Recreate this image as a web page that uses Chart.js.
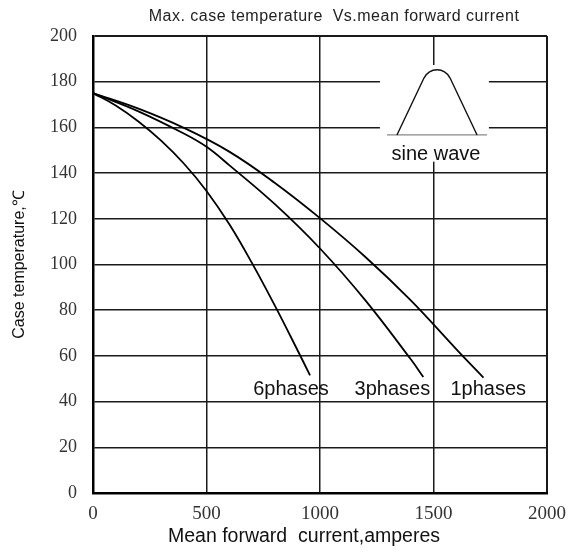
<!DOCTYPE html>
<html lang="en">
<head>
<meta charset="UTF-8">
<title>Max. case temperature Vs.mean forward current</title>
<script src="https://cdn.jsdelivr.net/npm/chart.js"></script>
<style>
  html, body { margin: 0; padding: 0; background: #fff; }
  #wrap { width: 577px; height: 555px; }
</style>
</head>
<body>
<div id="wrap"><canvas id="chart"></canvas></div>
<script>
// values: current in amperes, case temperature in °C
const seriesNames = ['6phases', '3phases', '1phases'];
const current6 = [0, 100, 200, 300, 400, 500, 600, 700, 800, 900, 956];
const temp6    = [175, 169.6, 162.6, 154.2, 144.2, 132.2, 117.7, 100.7, 82.2, 62.7, 51.5];
const current3 = [0, 200, 400, 500, 600, 800, 1000, 1200, 1400, 1455];
const temp3    = [175, 167, 157.3, 151.5, 143.5, 126.5, 107, 84.3, 58.5, 50.8];
const current1 = [0, 200, 400, 600, 800, 1000, 1200, 1400, 1600, 1720];
const temp1    = [175, 168.2, 159.8, 149.4, 135.8, 120.3, 103.3, 84.3, 63, 50.5];
const xTicks = [0, 500, 1000, 1500, 2000];
const yTicks = [0, 20, 40, 60, 80, 100, 120, 140, 160, 180, 200];

function points(xs, ys) {
    return xs.map((x, i) => ({ x: x, y: ys[i] }));
}

const curveStyle = {
    borderColor: '#000',
    borderWidth: 1.8,
    pointRadius: 0,
    fill: false,
    tension: 0.4
};

// where the texts and the little sine picture sit, in axis units
const labelSpots = [
    { x: 872, y: 42.9 },
    { x: 1319, y: 42.9 },
    { x: 1741, y: 42.9 }
];

const overlay = {
    id: 'overlay',
    beforeDatasetsDraw(chart) {
        const { ctx } = chart;
        const sx = chart.scales.x, sy = chart.scales.y;
        const X = v => sx.getPixelForValue(v);
        const Y = v => sy.getPixelForValue(v);
        ctx.save();
        // white patch behind the sine wave picture
        ctx.fillStyle = '#fff';
        ctx.fillRect(X(1264), Y(187.3), X(1744) - X(1264), Y(145) - Y(187.3));
        // base line
        ctx.strokeStyle = '#888';
        ctx.lineWidth = 1.3;
        ctx.beginPath();
        ctx.moveTo(X(1295), Y(156.7));
        ctx.lineTo(X(1736), Y(156.7));
        ctx.stroke();
        // half wave
        ctx.strokeStyle = '#111';
        ctx.lineWidth = 1.4;
        ctx.beginPath();
        ctx.moveTo(X(1339), Y(156.7));
        ctx.lineTo(X(1458), Y(181.6));
        ctx.bezierCurveTo(X(1485), Y(186.4), X(1546), Y(186.4), X(1573), Y(181.6));
        ctx.lineTo(X(1692), Y(156.7));
        ctx.stroke();
        ctx.restore();
    },
    afterDatasetsDraw(chart) {
        const { ctx } = chart;
        const sx = chart.scales.x, sy = chart.scales.y;
        ctx.save();
        ctx.fillStyle = '#111';
        ctx.font = '20px "Liberation Sans", Arial, sans-serif';
        ctx.textAlign = 'center';
        ctx.textBaseline = 'alphabetic';
        seriesNames.forEach((name, i) => {
            ctx.fillText(name, sx.getPixelForValue(labelSpots[i].x), sy.getPixelForValue(labelSpots[i].y));
        });
        ctx.fillText('sine wave', sx.getPixelForValue(1511), sy.getPixelForValue(145.7));
        ctx.restore();
    },
    afterDraw(chart) {
        const { ctx } = chart;
        ctx.save();
        ctx.fillStyle = '#222';
        ctx.font = '16px "Liberation Sans", Arial, sans-serif';
        ctx.letterSpacing = '0.5px';
        ctx.textAlign = 'center';
        ctx.textBaseline = 'alphabetic';
        ctx.fillText('Max. case temperature  Vs.mean forward current', 334, 21);
        // x axis title sits a bit left of the plot centre in the original
        ctx.letterSpacing = '0px';
        ctx.fillStyle = '#111';
        ctx.font = '19.5px "Liberation Sans", Arial, sans-serif';
        ctx.fillText('Mean forward  current,amperes', 304, 542);
        ctx.restore();
    }
};

function gridWidth(c) {
    const v = c.tick ? c.tick.value : null;
    return (v === c.scale.min || v === c.scale.max) ? 2 : 1.5;
}

new Chart(document.getElementById('chart'), {
    type: 'line',
    data: {
        datasets: [
            Object.assign({ label: seriesNames[0], data: points(current6, temp6) }, curveStyle),
            Object.assign({ label: seriesNames[1], data: points(current3, temp3) }, curveStyle),
            Object.assign({ label: seriesNames[2], data: points(current1, temp1) }, curveStyle)
        ]
    },
    options: {
        responsive: true,
        maintainAspectRatio: false,
        animation: false,
        layout: { padding: { top: 36, right: 30, left: 0, bottom: 0 } },
        plugins: {
            legend: { display: false },
            tooltip: { enabled: false },
            title: { display: false }
        },
        scales: {
            x: {
                type: 'linear',
                min: 0,
                max: 2000,
                afterBuildTicks: s => { s.ticks = xTicks.map(v => ({ value: v })); },
                afterFit: s => { s.height = 62; },
                grid: { color: '#1a1a1a', lineWidth: gridWidth, drawTicks: false },
                border: { color: '#000', width: 2.5 },
                ticks: {
                    padding: 10,
                    color: '#333',
                    callback: v => String(v),
                    font: { family: '"Liberation Serif", "Times New Roman", serif', size: 19 }
                }
            },
            y: {
                type: 'linear',
                min: 0,
                max: 200,
                afterBuildTicks: s => { s.ticks = yTicks.map(v => ({ value: v })); },
                afterFit: s => { s.width = 93; },
                grid: { color: '#1a1a1a', lineWidth: gridWidth, drawTicks: false },
                border: { color: '#000', width: 2.5 },
                ticks: {
                    padding: 16,
                    color: '#333',
                    callback: v => String(v),
                    font: { family: '"Liberation Serif", "Times New Roman", serif', size: 18 }
                },
                title: {
                    display: true,
                    text: 'Case temperature,℃',
                    color: '#111',
                    padding: { top: 10, bottom: 0 },
                    font: { family: '"Liberation Sans", Arial, sans-serif', size: 16 }
                }
            }
        }
    },
    plugins: [overlay]
});
</script>
</body>
</html>
